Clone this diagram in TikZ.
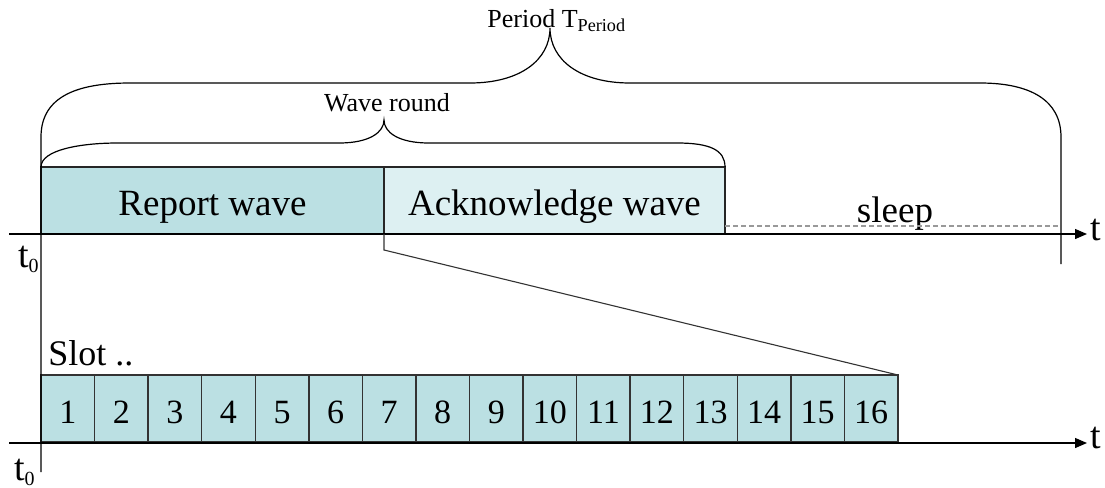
\documentclass[tikz,border=0pt]{standalone}
\usepackage{fontspec}
\setmainfont{Liberation Serif}
\usetikzlibrary{arrows.meta,positioning,calc}
\definecolor{reportblue}{RGB}{187,224,227}
\definecolor{ackblue}{RGB}{221,240,242}
\newcommand{\tzero}{t\raisebox{-2.5pt}{\fontsize{10}{10}\selectfont 0}}

\begin{document}
\begin{tikzpicture}[
    x=0.5pt, y=-0.5pt,
    wave/.style={rectangle, draw=black!85, line width=0.7pt, inner sep=0pt, outer sep=0pt, minimum height=33.5pt, anchor=south west, text height=14.5pt, text depth=0pt, font=\fontsize{18.5}{20}\selectfont},
    slotbox/.style={rectangle, draw=black!80, line width=0.7pt, fill=reportblue, inner sep=0pt, outer sep=0pt, minimum width=26.78pt, minimum height=33.5pt, anchor=south west, text height=14.5pt, text depth=0pt, font=\fontsize{17}{18}\selectfont},
    axis/.style={line width=0.65pt, -{Triangle[length=6pt,width=5pt]}},
    brace/.style={line width=0.6pt},
    zoomline/.style={line width=0.55pt, black!80},
    sleepline/.style={line width=0.6pt, black!40, dash pattern=on 2.5pt off 1.5pt},
    axislabel/.style={inner sep=0pt, anchor=base west, font=\fontsize{19}{20}\selectfont},
    bracelabel/.style={inner sep=0pt, anchor=base, font=\fontsize{13}{14}\selectfont}
]
    \useasboundingbox (0,0) rectangle (1105,488);

    \node[wave, fill=reportblue, minimum width=171.5pt] (rep) at (41,234) {Report wave};
    \node[wave, fill=ackblue, minimum width=170.5pt] (ack) at (384,234) {Acknowledge wave};
    \node[inner sep=0pt, anchor=base, font=\fontsize{18.5}{20}\selectfont] (sleep) at (895,222) {sleep};

    \foreach \i in {1,...,16}
        \node[slotbox] (s\i) at ({41+(\i-1)*53.56},442) {\i};
    \node[inner sep=0pt, anchor=base west, font=\fontsize{18}{20}\selectfont] (slots) at (48,365) {Slot ..};

    \coordinate (ax1s) at (9,234);
    \coordinate (ax1e) at (1087,234);
    \coordinate (ax2s) at (9,443);
    \coordinate (ax2e) at (1087,443);
    \coordinate (t0bot) at (41,472);
    \coordinate (tend) at (1061,264);
    \coordinate (sleepend) at (1061,226);

    \draw[axis] (ax1s) -- (ax1e);
    \draw[axis] (ax2s) -- (ax2e);
    \node[axislabel] (tup) at (1090,240) {t};
    \node[axislabel] (tdown) at (1090,448) {t};
    \node[axislabel, anchor=base east] (t0up) at (39,267) {\tzero};
    \node[axislabel, anchor=base east] (t0down) at (35,480) {\tzero};

    \draw[sleepline] ($(ack.south east)+(0,-8)$) -- (sleepend);
    \draw[zoomline] (rep.south east) -- ++(0,16) -- (s16.north east);

    \draw[brace] (t0bot) -- (41,137) .. controls (41,95) and (80,83) .. (130,83) -- (470,83)
        .. controls (520,83) and (550,60) .. (550,28)
        .. controls (550,60) and (580,83) .. (630,83) -- (980,83)
        .. controls (1030,83) and (1061,100) .. (1061,137) -- (tend);
    \draw[brace] (rep.north west) .. controls (41,150) and (80,143) .. (118,143) -- (339,143)
        .. controls (370,143) and (384,132) .. (384,120)
        .. controls (384,132) and (398,143) .. (429,143) -- (677,143)
        .. controls (710,143) and (725,150) .. (ack.north east);
    \node[bracelabel, anchor=base west] (period) at (487,27) {Period T\textsubscript{Period}};
    \node[bracelabel] (round) at (387,111) {Wave round};
\end{tikzpicture}
\end{document}
